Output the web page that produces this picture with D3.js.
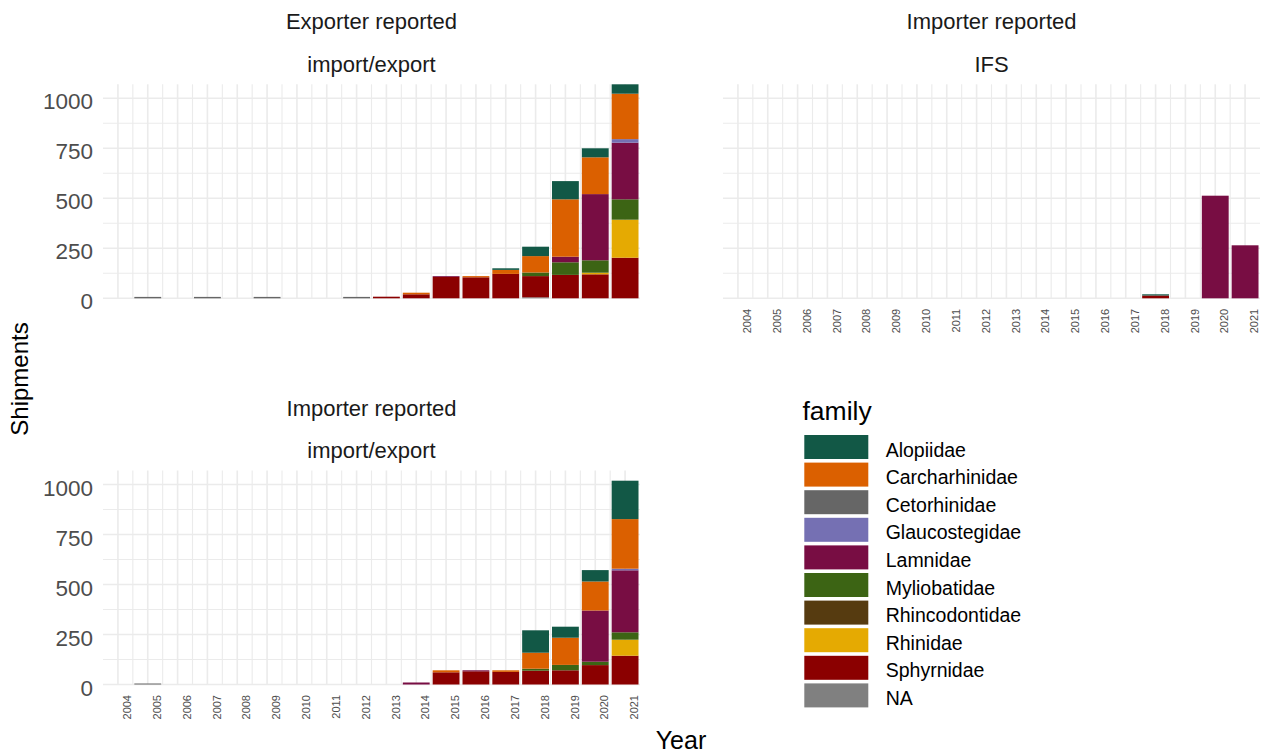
<!DOCTYPE html>
<html>
<head>
<meta charset="utf-8">
<script src="https://cdn.jsdelivr.net/npm/d3@7"></script>
<style>
  html, body { margin: 0; padding: 0; background: #ffffff; }
  svg { display: block; font-family: "Liberation Sans", Arial, sans-serif; }
</style>
</head>
<body>
<svg id="chart" width="1264" height="755"></svg>
<script>
// Shipments by shark/ray family, per reporting source and trade type
const years = d3.range(2004, 2022);
const families = ["Alopiidae", "Carcharhinidae", "Cetorhinidae", "Glaucostegidae", "Lamnidae",
                  "Myliobatidae", "Rhincodontidae", "Rhinidae", "Sphyrnidae", "NA"];
const familyColors = ["#125846", "#DB6000", "#666666", "#7570B3", "#780D43",
                      "#3C6414", "#563B10", "#E5AA02", "#8B0000", "#808080"];
const yTicks = [0, 250, 500, 750, 1000];

// one value per year, 2004 … 2021
const exporterImportExport = {
  Alopiidae:      [0,0,0,0,0,0,0,0,0,0,0,0,0,8,47,91,45,47],
  Carcharhinidae: [0,0,0,0,0,0,0,0,0,0,8,0,6,20,82,287,184,227],
  Cetorhinidae:   [0,7,0,7,0,7,0,0,7,0,0,0,0,0,0,0,0,0],
  Glaucostegidae: [0,0,0,0,0,0,0,0,0,0,0,0,0,0,0,0,0,18],
  Lamnidae:       [0,0,0,0,0,0,0,0,0,0,0,4,0,0,0,28,331,283],
  Myliobatidae:   [0,0,0,0,0,0,0,0,0,0,0,0,0,0,18,63,62,102],
  Rhincodontidae: [0,0,0,0,0,0,0,0,0,0,0,0,0,0,0,0,0,0],
  Rhinidae:       [0,0,0,0,0,0,0,0,0,0,0,0,0,0,0,0,8,190],
  Sphyrnidae:     [0,0,0,0,0,0,0,0,0,8,20,107,105,122,106,117,120,203],
  NA:             [0,0,0,0,0,0,0,0,0,0,0,0,0,0,5,0,0,0]
};
const importerIFS = {
  Alopiidae:      [0,0,0,0,0,0,0,0,0,0,0,0,0,0,6,0,0,0],
  Carcharhinidae: [0,0,0,0,0,0,0,0,0,0,0,0,0,0,0,0,0,0],
  Cetorhinidae:   [0,0,0,0,0,0,0,0,0,0,0,0,0,0,0,0,0,0],
  Glaucostegidae: [0,0,0,0,0,0,0,0,0,0,0,0,0,0,0,0,0,0],
  Lamnidae:       [0,0,0,0,0,0,0,0,0,0,0,0,0,0,0,0,513,265],
  Myliobatidae:   [0,0,0,0,0,0,0,0,0,0,0,0,0,0,0,0,0,0],
  Rhincodontidae: [0,0,0,0,0,0,0,0,0,0,0,0,0,0,0,0,0,0],
  Rhinidae:       [0,0,0,0,0,0,0,0,0,0,0,0,0,0,0,0,0,0],
  Sphyrnidae:     [0,0,0,0,0,0,0,0,0,0,0,0,0,0,14,0,0,0],
  NA:             [0,0,0,0,0,0,0,0,0,0,0,0,0,0,0,0,0,0]
};
const importerImportExport = {
  Alopiidae:      [0,0,0,0,0,0,0,0,0,0,0,0,0,0,112,55,57,192],
  Carcharhinidae: [0,0,0,0,0,0,0,0,0,0,0,10,0,8,80,136,145,248],
  Cetorhinidae:   [0,5,0,0,0,0,0,0,0,0,0,0,0,0,0,0,0,0],
  Glaucostegidae: [0,0,0,0,0,0,0,0,0,0,0,0,0,0,0,0,0,8],
  Lamnidae:       [0,0,0,0,0,0,0,0,0,0,10,0,5,0,0,0,256,310],
  Myliobatidae:   [0,0,0,0,0,0,0,0,0,0,0,0,0,0,10,27,17,37],
  Rhincodontidae: [0,0,0,0,0,0,0,0,0,0,0,0,0,0,0,0,0,0],
  Rhinidae:       [0,0,0,0,0,0,0,0,0,0,0,0,0,0,0,0,0,80],
  Sphyrnidae:     [0,0,0,0,0,0,0,0,0,0,0,61,66,63,69,71,97,144],
  NA:             [0,0,0,0,0,0,0,0,0,0,0,0,0,0,0,0,0,0]
};

const panels = [
  { source: "Exporter reported", type: "import/export", values: exporterImportExport,
    left: 103, top: 84.3, yLabels: true, xLabels: false },
  { source: "Importer reported", type: "IFS", values: importerIFS,
    left: 723, top: 84.3, yLabels: false, xLabels: true },
  { source: "Importer reported", type: "import/export", values: importerImportExport,
    left: 103, top: 470.5, yLabels: true, xLabels: true }
];

const panelW = 537, panelH = 214;
const svg = d3.select("#chart");
const color = d3.scaleOrdinal().domain(families).range(familyColors);

// rows of {year, family...} for d3.stack
function rowsOf(values) {
  return years.map((yr, i) => {
    const r = { year: yr };
    families.forEach(f => { r[f] = values[f][i]; });
    return r;
  });
}

// stacking from the bottom: last family lowest, first family on top
const stack = d3.stack().keys(families.slice().reverse());

const yMax = d3.max(panels, p => d3.max(rowsOf(p.values), r => d3.sum(families, f => r[f])));

panels.forEach(p => {
  const x = d3.scaleLinear().domain([2003.5, 2021.5]).range([p.left, p.left + panelW]);
  const y = d3.scaleLinear().domain([0, yMax]).range([p.top + panelH, p.top]);
  const g = svg.append("g");

  // grid: minor lines first, then major
  const minorY = d3.range(125, yMax, 250);
  const minorX = d3.range(2004.5, 2021, 1);
  g.append("g").selectAll("line").data(minorY).join("line")
    .attr("x1", p.left).attr("x2", p.left + panelW)
    .attr("y1", d => y(d)).attr("y2", d => y(d))
    .attr("stroke", "#EBEBEB").attr("stroke-width", 1.1);
  g.append("g").selectAll("line").data(minorX).join("line")
    .attr("x1", d => x(d)).attr("x2", d => x(d))
    .attr("y1", p.top).attr("y2", p.top + panelH)
    .attr("stroke", "#EBEBEB").attr("stroke-width", 1.1);
  g.append("g").selectAll("line").data(yTicks).join("line")
    .attr("x1", p.left).attr("x2", p.left + panelW)
    .attr("y1", d => y(d)).attr("y2", d => y(d))
    .attr("stroke", "#EBEBEB").attr("stroke-width", 1.6);
  g.append("g").selectAll("line").data(years).join("line")
    .attr("x1", d => x(d)).attr("x2", d => x(d))
    .attr("y1", p.top).attr("y2", p.top + panelH)
    .attr("stroke", "#EBEBEB").attr("stroke-width", 1.6);

  // stacked bars
  const series = stack(rowsOf(p.values));
  const bw = x(0.9) - x(0);
  g.append("g").selectAll("g").data(series).join("g")
    .attr("fill", s => color(s.key))
    .selectAll("rect").data(s => s.filter(d => d[1] > d[0])).join("rect")
    .attr("x", d => x(d.data.year) - bw / 2)
    .attr("width", bw)
    .attr("y", d => y(d[1]))
    .attr("height", d => y(d[0]) - y(d[1]));

  // strip titles
  const cx = p.left + panelW / 2;
  g.append("text").attr("x", cx).attr("y", p.top - 55).attr("text-anchor", "middle")
    .attr("font-size", 22).attr("fill", "#1A1A1A").text(p.source);
  g.append("text").attr("x", cx).attr("y", p.top - 12.6).attr("text-anchor", "middle")
    .attr("font-size", 22).attr("fill", "#1A1A1A").text(p.type);

  // y axis labels
  if (p.yLabels) {
    const ya = g.append("g").attr("transform", `translate(${p.left - 10},0)`)
      .call(d3.axisLeft(y).tickValues(yTicks).tickSize(0).tickPadding(0).tickFormat(d3.format("d")));
    ya.select(".domain").remove();
    ya.selectAll("text").attr("font-size", 22.5).attr("fill", "#4D4D4D")
      .attr("font-family", "Liberation Sans, Arial, sans-serif")
      .attr("dy", null).attr("y", 10.5);
  }

  // x axis labels, rotated
  if (p.xLabels) {
    const xa = g.append("g").attr("transform", `translate(0,${p.top + panelH + 10.5})`)
      .call(d3.axisBottom(x).tickValues(years).tickSize(0).tickPadding(0).tickFormat(d3.format("d")));
    xa.select(".domain").remove();
    xa.selectAll("text").attr("font-size", 11).attr("fill", "#4D4D4D")
      .attr("font-family", "Liberation Sans, Arial, sans-serif")
      .attr("text-anchor", "end").attr("dy", null).attr("y", 0)
      .attr("transform", "translate(12.6,0) rotate(-90)");
  }
});

// axis titles
svg.append("text").attr("x", 681).attr("y", 749).attr("text-anchor", "middle")
  .attr("font-size", 25).attr("fill", "#000").text("Year");
svg.append("text").attr("transform", "translate(28,379) rotate(-90)").attr("text-anchor", "middle")
  .attr("font-size", 24).attr("fill", "#000").text("Shipments");

// legend
const legend = svg.append("g");
legend.append("text").attr("x", 802.5).attr("y", 420).attr("font-size", 26.5).attr("fill", "#000").text("family");
const item = legend.selectAll("g.item").data(families).join("g").attr("class", "item")
  .attr("transform", (d, i) => `translate(804.3,${435 + i * 27.6})`);
item.append("rect").attr("width", 64).attr("height", 24).attr("fill", d => color(d));
item.append("text").attr("x", 81.4).attr("y", 21.7).attr("font-size", 19.5).attr("fill", "#000").text(d => d);
</script>
</body>
</html>
